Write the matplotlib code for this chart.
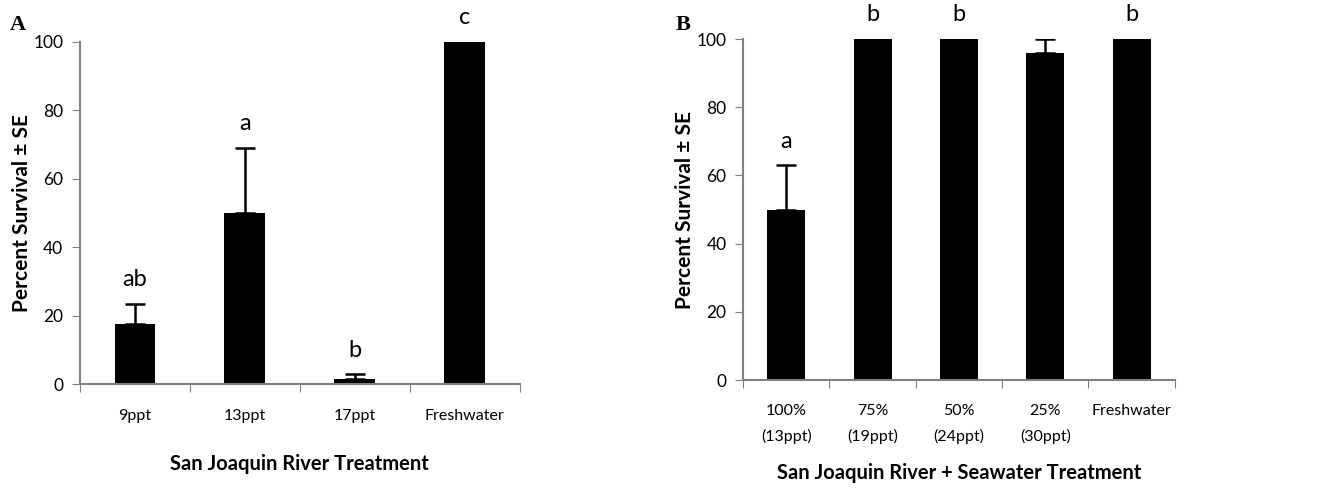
import numpy as np
import matplotlib.pyplot as plt

# panel A: San Joaquin River water at three salinities + freshwater control
a_labels = ["9ppt", "13ppt", "17ppt", "Freshwater"]
a_mean = [17.5, 50, 1.5, 100]
a_se = [6, 19, 1.3, 0]
a_letters = ["ab", "a", "b", "c"]

# panel B: river water diluted with seawater
b_labels = ["100%\n(13ppt)", "75%\n(19ppt)", "50%\n(24ppt)", "25%\n(30ppt)", "Freshwater"]
b_mean = [50, 100, 100, 96, 100]
b_se = [13, 0, 0, 4, 0]
b_letters = ["a", "b", "b", "", "b"]

plt.rcParams['font.family'] = ['Lato', 'DejaVu Sans']
spine_col = "#808080"


def panel(ax, labels, mean, se, letters, width, xlabel, tag, tagx, tagy, xpad, lpad):
    n = len(labels)
    x = np.arange(n)
    ax.bar(x, mean, width=width, color="black", zorder=2)
    ax.errorbar(x, mean, yerr=[np.zeros(n), se], fmt="none", ecolor="black",
                elinewidth=1.8, capsize=7.5, capthick=1.8, zorder=3)
    for xi, m, s, lt in zip(x, mean, se, letters):
        ax.text(xi, m + s + 4, lt, ha="center", va="bottom", fontsize=17)
    ax.set_xlim(-0.5, n - 0.5)
    ax.set_ylim(0, 100)
    ax.set_yticks(np.arange(0, 101, 20))
    ax.set_xticks(np.arange(n + 1) - 0.5)
    ax.set_xticklabels([])
    ax.set_xticks(x, minor=True)
    ax.set_xticklabels(labels, minor=True, fontsize=11.5, linespacing=1.9)
    ax.tick_params(axis="x", which="major", length=6, color=spine_col)
    ax.tick_params(axis="x", which="minor", length=0, pad=xpad)
    ax.tick_params(axis="y", length=6, color=spine_col, labelsize=12.5, pad=6)
    for s in ["top", "right"]:
        ax.spines[s].set_visible(False)
    for s in ["left", "bottom"]:
        ax.spines[s].set_color(spine_col)
        ax.spines[s].set_linewidth(1.5)
    ax.set_ylabel("Percent Survival ± SE", fontsize=15, fontweight="bold", labelpad=1)
    ax.set_xlabel(xlabel, fontsize=14.5, fontweight="bold", labelpad=lpad)
    ax.text(tagx, tagy, tag, transform=ax.transAxes, fontsize=16,
            fontweight="bold", family="Liberation Serif", va="top")


fig = plt.figure(figsize=(13.2, 4.88), dpi=100)
ax1 = fig.add_axes([0.0606, 0.213, 0.333, 0.701])
ax2 = fig.add_axes([0.563, 0.221, 0.327, 0.699])

panel(ax1, a_labels, a_mean, a_se, a_letters, 0.37,
      "San Joaquin River Treatment", "A", -0.16, 1.08, 18, 22)
panel(ax2, b_labels, b_mean, b_se, b_letters, 0.44,
      "San Joaquin River + Seawater Treatment", "B", -0.157, 1.07, 17, 14)

fig.savefig("out.png", dpi=100)
